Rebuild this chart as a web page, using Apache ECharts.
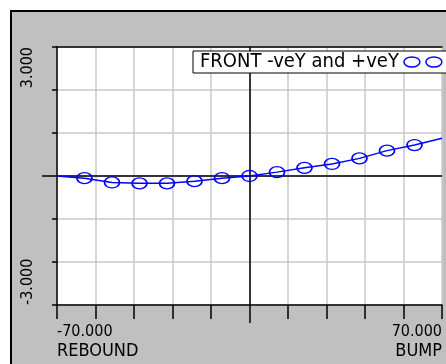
<!DOCTYPE html>
<html>
<head>
<meta charset="utf-8">
<script src="https://cdn.jsdelivr.net/npm/echarts@6/dist/echarts.min.js"></script>
<style>
  html, body { margin: 0; padding: 0; background: #fff; }
  #chart { width: 446px; height: 364px; }
</style>
</head>
<body>
<div id="chart"></div>
<script>
// Wheel travel (mm) and the measured value at each travel step
const travel = [-70, -60, -50, -40, -30, -20, -10, 0, 10, 20, 30, 40, 50, 60, 70];
const frontValues = [0.0, -0.05, -0.15, -0.17, -0.17, -0.12, -0.05, 0.0, 0.09, 0.19, 0.28, 0.41, 0.59, 0.72, 0.88];
const seriesName = 'FRONT -veY and +veY';

// Axis ranges and the end labels
const xRange = [-70, 70];
const yRange = [-3, 3];
const xEndLabels = ['-70.000', '70.000'];
const xEndWords = ['REBOUND', 'BUMP'];
const yEndLabels = ['-3.000', '3.000'];

const FONT = '"DejaVu Sans Condensed", "DejaVu Sans", sans-serif';
const BLUE = '#0000ff';
const GRIDGRAY = '#c8c8c8';

// Endpoints of the curve carry no marker
const points = travel.map((x, i) => {
  const item = { value: [x, frontValues[i]] };
  if (i === 0 || i === travel.length - 1) item.symbol = 'none';
  return item;
});

const chart = echarts.init(document.getElementById('chart'), null, { renderer: 'canvas' });

const xLabelRich = {
  n: { fontFamily: FONT, fontSize: 16, lineHeight: 19, color: '#000' },
  w: { fontFamily: FONT, fontSize: 18, lineHeight: 20, color: '#000' }
};

const option = {
  backgroundColor: '#ffffff',
  animation: false,
  graphic: [{
    type: 'rect',
    z: -100,
    silent: true,
    shape: { x: 11, y: 11, width: 470, height: 390 },
    style: { fill: '#c0c0c0', stroke: '#000', lineWidth: 2 }
  }],
  grid: {
    left: 57, top: 47, right: 4, bottom: 59,
    show: true, backgroundColor: '#ffffff', borderWidth: 0
  },
  legend: {
    left: 193, top: 51,
    data: [seriesName],
    align: 'right',
    backgroundColor: '#ffffff',
    borderColor: '#000', borderWidth: 1,
    padding: [1, 6, 1, 7],
    itemWidth: 38, itemHeight: 13,
    icon: 'path://M0,5a8,5 0 1,0 16,0a8,5 0 1,0 -16,0M22,5a8,5 0 1,0 16,0a8,5 0 1,0 -16,0',
    itemStyle: { color: 'rgba(0,0,0,0)', borderColor: BLUE, borderWidth: 1.5 },
    textStyle: { fontFamily: FONT, fontSize: 20, color: '#000' }
  },
  xAxis: [
    {
      type: 'value', position: 'bottom', min: xRange[0], max: xRange[1], interval: 14,
      axisLine: { onZero: false, lineStyle: { color: '#000', width: 1.5 } },
      axisTick: { length: 14, lineStyle: { color: '#000', width: 1.5 } },
      splitLine: { show: true, lineStyle: { color: GRIDGRAY, width: 1.5 } },
      axisLabel: {
        customValues: [xRange[0]], align: 'left', margin: 17,
        formatter: () => '{n|' + xEndLabels[0] + '}\n{w|' + xEndWords[0] + '}',
        rich: xLabelRich
      }
    },
    {
      type: 'value', position: 'bottom', min: xRange[0], max: xRange[1], interval: 14,
      axisLine: { show: false, onZero: false },
      axisTick: { customValues: [0], length: 18, lineStyle: { color: '#000', width: 1.5 } },
      splitLine: { show: false },
      axisLabel: {
        customValues: [xRange[1]], align: 'right', margin: 17,
        formatter: () => '{n|' + xEndLabels[1] + '}\n{w|' + xEndWords[1] + '}',
        rich: xLabelRich
      }
    },
    {
      type: 'value', position: 'top', min: xRange[0], max: xRange[1],
      axisLine: { onZero: false, lineStyle: { color: '#000', width: 1.5 } },
      axisTick: { show: false }, axisLabel: { show: false }, splitLine: { show: false }
    }
  ],
  yAxis: [
    {
      type: 'value', position: 'left', min: yRange[0], max: yRange[1], interval: 1,
      axisLine: { onZero: false, lineStyle: { color: '#000', width: 1.5 } },
      axisTick: { length: 5, lineStyle: { color: '#000', width: 1.5 } },
      splitLine: { show: true, lineStyle: { color: GRIDGRAY, width: 1.5 } },
      axisLabel: {
        customValues: [yRange[0]], rotate: 90, align: 'left', margin: 21,
        formatter: () => yEndLabels[0],
        fontFamily: FONT, fontSize: 16, color: '#000'
      }
    },
    {
      type: 'value', position: 'left', min: yRange[0], max: yRange[1], interval: 1,
      axisLine: { show: false, onZero: false },
      axisTick: { customValues: [0], length: 15, lineStyle: { color: '#000', width: 1.5 } },
      splitLine: { show: false },
      axisLabel: {
        customValues: [yRange[1]], rotate: 90, align: 'right', margin: 21,
        formatter: () => yEndLabels[1],
        fontFamily: FONT, fontSize: 16, color: '#000'
      }
    }
  ],
  series: [{
    name: seriesName,
    type: 'line',
    xAxisIndex: 0, yAxisIndex: 0,
    data: points,
    symbol: 'circle',
    symbolSize: [15, 11],
    lineStyle: { color: BLUE, width: 1.5 },
    itemStyle: { color: 'rgba(0,0,0,0)', borderColor: BLUE, borderWidth: 1.5 },
    markLine: {
      silent: true, symbol: 'none', z: 1,
      label: { show: false },
      lineStyle: { color: '#000', width: 1.5, type: 'solid' },
      emphasis: { disabled: true },
      data: [{ xAxis: 0 }, { yAxis: 0 }]
    }
  }]
};

chart.setOption(option);
</script>
</body>
</html>
